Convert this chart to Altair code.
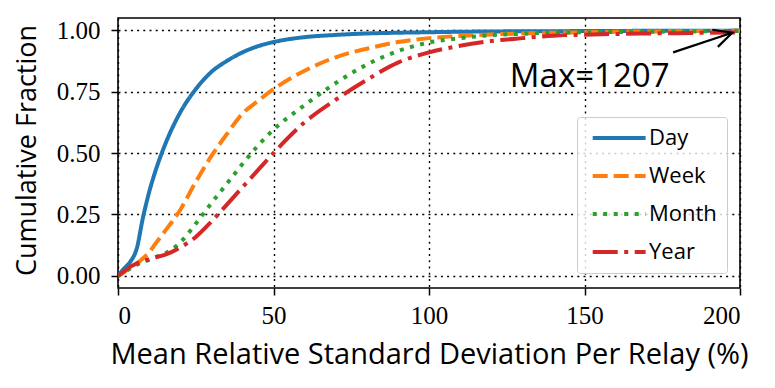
import altair as alt
import pandas as pd

# ---- data ----
x_vals = [0, 2, 4, 6, 8, 10, 12, 15, 20, 25, 30, 35, 40, 45, 50, 60, 70, 80, 90,
          100, 110, 120, 130, 140, 150, 160, 170, 180, 190, 200]
day = [0, 0.03, 0.058, 0.11, 0.235, 0.34, 0.425, 0.53, 0.665, 0.76, 0.83, 0.875, 0.91,
       0.935, 0.952, 0.972, 0.981, 0.987, 0.990, 0.992, 0.994, 0.995, 0.996, 0.996,
       0.997, 0.997, 0.998, 0.998, 0.998, 0.999]
week = [0, 0.015, 0.035, 0.05, 0.07, 0.095, 0.13, 0.18, 0.268, 0.382, 0.487, 0.577,
        0.66, 0.712, 0.76, 0.835, 0.89, 0.925, 0.952, 0.968, 0.977, 0.983, 0.987, 0.99,
        0.992, 0.994, 0.995, 0.996, 0.997, 0.998]
month = [0, 0.015, 0.03, 0.045, 0.055, 0.065, 0.075, 0.09, 0.135, 0.212, 0.295, 0.375,
         0.455, 0.53, 0.595, 0.695, 0.785, 0.86, 0.915, 0.95, 0.968, 0.98, 0.986, 0.99,
         0.992, 0.993, 0.994, 0.995, 0.996, 0.997]
year = [0, 0.018, 0.037, 0.05, 0.06, 0.068, 0.075, 0.085, 0.115, 0.158, 0.22, 0.29,
        0.36, 0.43, 0.50, 0.625, 0.717, 0.798, 0.868, 0.91, 0.937, 0.956, 0.968, 0.978,
        0.982, 0.985, 0.987, 0.988, 0.99, 0.991]

series = ["Day", "Week", "Month", "Year"]
colors = ["#1f77b4", "#ff7f0e", "#2ca02c", "#d62728"]
dashes = [[1, 0], [15, 6], [4, 6.5], [25, 6.5, 4, 6.5]]

x_ticks = [0, 50, 100, 150, 200]
y_ticks = [0, 0.25, 0.5, 0.75, 1.0]

# annotation (data units)
note_text = ["Max=1207"]
note_x = [126]
note_y = [0.77]
arrow_x = [178.5, 197.5]
arrow_y = [0.91, 0.99]

rows = []
for name, ys in zip(series, [day, week, month, year]):
    for xv, yv in zip(x_vals, ys):
        rows.append({"x": xv, "y": yv, "series": name})
df = pd.DataFrame(rows)

SANS = "Open Sans"
SERIF = "Liberation Serif"

xscale = alt.Scale(domain=[0, 200], nice=False, zero=False)
yscale = alt.Scale(domain=[-0.05, 1.05], nice=False, zero=False)

lines = alt.Chart(df).mark_line(strokeWidth=4, clip=True, interpolate="monotone").encode(
    x=alt.X("x:Q", scale=xscale,
            axis=alt.Axis(values=x_ticks, title="Mean Relative Standard Deviation Per Relay (%)",
                          titleY=75, titleBaseline="alphabetic", titleFontSize=29,
                          titleFont=SANS, labelFont=SERIF, labelFontSize=25, labelPadding=8)),
    y=alt.Y("y:Q", scale=yscale,
            axis=alt.Axis(values=y_ticks, format=".2f", title="Cumulative Fraction",
                          titleX=-83, titleY=132, titleBaseline="alphabetic", titleFontSize=27,
                          titleFont=SANS, labelFont=SERIF, labelFontSize=25, labelPadding=11)),
    color=alt.Color("series:N", scale=alt.Scale(domain=series, range=colors),
                    legend=alt.Legend(title=None, orient="none", legendX=459, legendY=99)),
    strokeDash=alt.StrokeDash("series:N", scale=alt.Scale(domain=series, range=dashes),
                              legend=alt.Legend(title=None, orient="none", legendX=459, legendY=99)),
    detail="series:N",
)

note = alt.Chart(pd.DataFrame({"x": note_x, "y": note_y, "t": note_text})).mark_text(
    align="left", baseline="alphabetic", font=SANS, fontSize=33, color="black"
).encode(x=alt.X("x:Q", scale=xscale), y=alt.Y("y:Q", scale=yscale), text="t:N")

shaft = alt.Chart(pd.DataFrame({"x": arrow_x, "y": arrow_y})).mark_line(
    color="black", strokeWidth=2.2
).encode(x=alt.X("x:Q", scale=xscale), y=alt.Y("y:Q", scale=yscale))

head = alt.Chart(pd.DataFrame({"x": arrow_x[1:], "y": arrow_y[1:]})).mark_point(
    shape="M-1,-0.5L0,0L-1,0.5", filled=False, stroke="black", strokeWidth=2.2,
    size=1300, angle=342, opacity=1
).encode(x=alt.X("x:Q", scale=xscale), y=alt.Y("y:Q", scale=yscale))

chart = alt.layer(lines, note, shaft, head).properties(
    width=622, height=270, autosize="none",
    padding={"left": 110, "top": 10, "right": 20, "bottom": 92},
).configure(
    font=SERIF
).configure_view(
    stroke="black", strokeWidth=1.6
).configure_axis(
    domain=False, grid=True, gridColor="black", gridDash=[2, 4.2], gridWidth=1.4,
    gridOpacity=1, tickColor="black", tickWidth=1.5, tickSize=7,
    labelColor="black", labelFont=SERIF,
    titleFont=SANS, titleFontWeight="normal", titleColor="black",
).configure_legend(
    strokeColor="#cccccc", fillColor="rgba(255,255,255,0.8)", padding=10, cornerRadius=3,
    labelFont=SANS, labelFontSize=22, labelColor="black", rowPadding=16,
    symbolType="M-1,0L9,0", symbolSize=112, symbolStrokeWidth=4, labelOffset=40,
)

chart.save("out.html", embed_options={"renderer": "svg", "actions": False})
